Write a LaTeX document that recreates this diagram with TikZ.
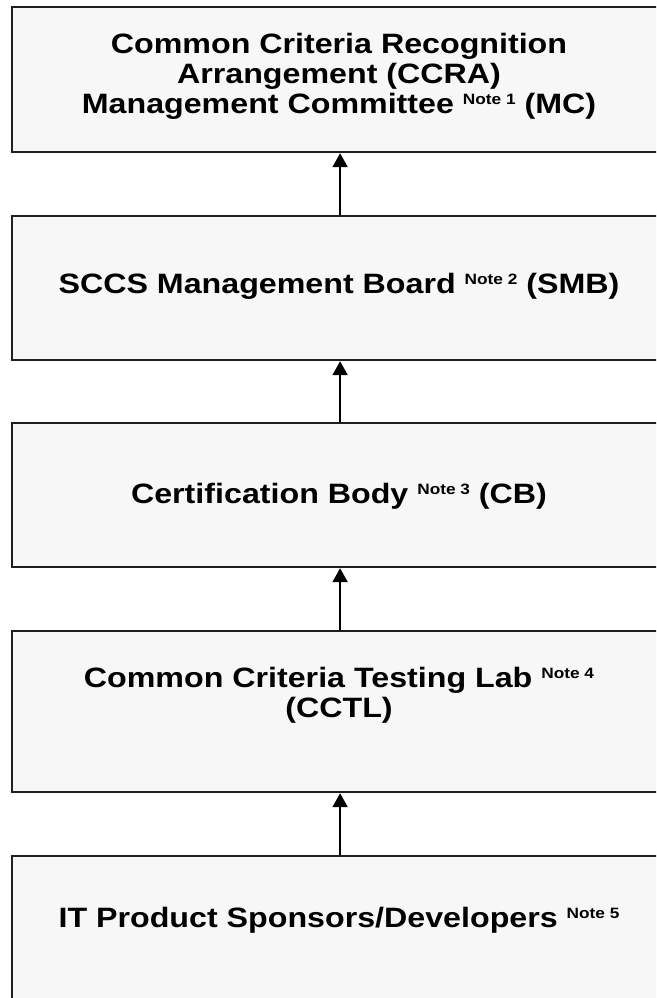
\documentclass[tikz,border=0pt]{standalone}
\usepackage{fontspec}
\setmainfont{Liberation Sans}
\usetikzlibrary{arrows.meta}
\newcommand\notesup[1]{\raisebox{8.5pt}{\fontsize{15}{15}\selectfont #1}}
\newcommand\wideline[1]{\scalebox{1.15}[1]{#1}}
\begin{document}
\begin{tikzpicture}[x=1pt,y=-1pt,
  box/.style={draw=black!88, line width=2.2pt, fill=black!3, rectangle, inner sep=0pt,
    minimum width=656pt, anchor=north west},
  lbl/.style={font=\bfseries\fontsize{28}{30}\selectfont, align=center, inner sep=0pt},
  arr/.style={draw=black, line width=2pt, -{Triangle[width=15pt,length=14pt]}}]
\useasboundingbox (0,0) rectangle (656,998);
\clip (0,0) rectangle (656,998);
\node[box, minimum height=145pt] (b1) at (11,6) {};
\node[box, minimum height=144pt] (b2) at (11,215) {};
\node[box, minimum height=144pt] (b3) at (11,422) {};
\node[box, minimum height=161pt] (b4) at (11,630) {};
\node[box, minimum height=170pt] (b5) at (11,855) {};
\node[lbl] (t1) at (339,76) {\wideline{Common Criteria Recognition}\\\wideline{Arrangement (CCRA)}\\\wideline{Management Committee \notesup{Note 1} (MC)}};
\node[lbl] (t2) at (339,286) {\wideline{SCCS Management Board \notesup{Note 2} (SMB)}};
\node[lbl] (t3) at (339,496) {\wideline{Certification Body \notesup{Note 3} (CB)}};
\node[lbl] (t4) at (339,695) {\wideline{Common Criteria Testing Lab \notesup{Note 4}}\\\wideline{(CCTL)}};
\node[lbl] (t5) at (339,920) {\wideline{IT Product Sponsors/Developers \notesup{Note 5}}};
\draw[arr] (b2.north) -- (b1.south);
\draw[arr] (b3.north) -- (b2.south);
\draw[arr] (b4.north) -- (b3.south);
\draw[arr] (b5.north) -- (b4.south);
\end{tikzpicture}
\end{document}
